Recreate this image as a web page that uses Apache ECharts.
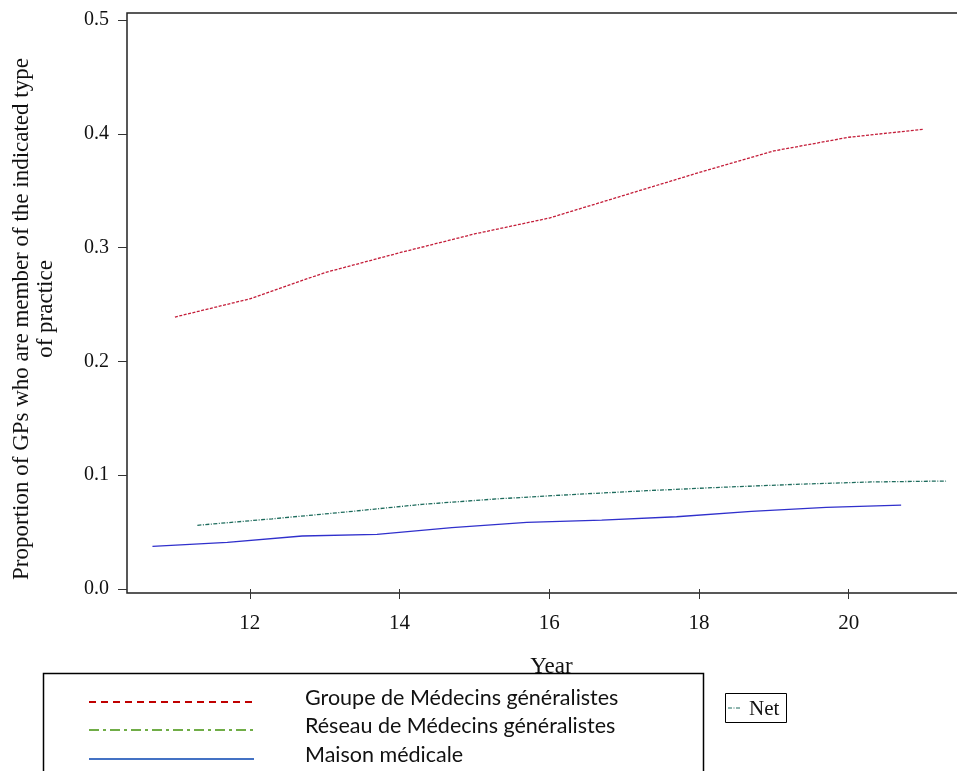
<!DOCTYPE html>
<html>
<head>
<meta charset="utf-8">
<script src="https://cdn.jsdelivr.net/npm/echarts@6/dist/echarts.min.js"></script>
<style>
  html, body { margin: 0; padding: 0; background: #fff; }
  #chart { width: 957px; height: 771px; }
</style>
</head>
<body>
<div id="chart"></div>
<script>
// Share of GPs by type of practice, per year
const yearsGroupe = [11, 12, 13, 14, 15, 16, 17, 18, 19, 20, 21];
const groupe = [0.239, 0.255, 0.278, 0.2955, 0.312, 0.326, 0.346, 0.366, 0.385, 0.397, 0.404];

const yearsReseau = [11.3, 12.3, 13.3, 14.3, 15.3, 16.3, 17.3, 18.3, 19.3, 20.3, 21.3];
const reseau = [0.056, 0.0617, 0.0678, 0.0744, 0.0792, 0.083, 0.0864, 0.0894, 0.092, 0.0941, 0.0949];

const yearsMaison = [10.7, 11.7, 12.7, 13.7, 14.7, 15.7, 16.7, 17.7, 18.7, 19.7, 20.7];
const maison = [0.0375, 0.041, 0.0466, 0.048, 0.054, 0.0586, 0.0606, 0.0635, 0.0683, 0.0718, 0.0738];

const xTicks = [12, 14, 16, 18, 20];
const yTicks = [0, 0.1, 0.2, 0.3, 0.4, 0.5];

const yTitle = ['Proportion of GPs who are member of the indicated type', 'of practice'];
const xTitle = 'Year';
const legendLabels = ['Groupe de Médecins généralistes', 'Réseau de Médecins généralistes', 'Maison médicale'];
const netLabel = 'Net';

const pairs = (xs, ys) => xs.map((x, i) => [x, ys[i]]);

const serif = '"Liberation Serif", "DejaVu Serif", serif';
const sans = 'Lato, "Noto Sans", sans-serif';

const chart = echarts.init(document.getElementById('chart'), null, { renderer: 'canvas' });

chart.setOption({
  animation: false,
  backgroundColor: '#fff',
  grid: {
    // plot box runs past the right edge of the canvas
    left: 127, top: 13, width: 849, height: 580,
    outerBoundsMode: 'none', containLabel: false,
    show: true, borderColor: '#222', borderWidth: 1.5, backgroundColor: 'transparent'
  },
  xAxis: {
    type: 'value', min: 10.36, max: 21.7,
    axisLine: { show: false },
    splitLine: { show: false },
    axisTick: { show: true, customValues: xTicks, length: 10, lineStyle: { color: '#333', width: 1 } },
    axisLabel: {
      customValues: xTicks, margin: 20,
      fontFamily: serif, fontSize: 21, color: '#111'
    },
    name: xTitle, nameLocation: 'middle', nameGap: 62,
    nameTextStyle: { fontFamily: serif, fontSize: 23, color: '#111' }
  },
  yAxis: {
    type: 'value', min: -0.0035, max: 0.5062,
    axisLine: { show: false },
    splitLine: { show: false },
    axisTick: { show: true, customValues: yTicks, length: 9, lineStyle: { color: '#333', width: 1 } },
    axisLabel: {
      customValues: yTicks, margin: 18,
      formatter: v => v.toFixed(1),
      fontFamily: serif, fontSize: 20, color: '#111'
    }
  },
  series: [
    {
      name: legendLabels[0], type: 'line', data: pairs(yearsGroupe, groupe),
      showSymbol: false, silent: true,
      lineStyle: { color: '#c41e3a', width: 1.3, type: [3, 1.5] }
    },
    {
      name: legendLabels[1], type: 'line', data: pairs(yearsReseau, reseau),
      showSymbol: false, silent: true,
      lineStyle: { color: '#1d6b5c', width: 1.3, type: [4, 1.5, 1, 1.5] }
    },
    {
      name: legendLabels[2], type: 'line', data: pairs(yearsMaison, maison),
      showSymbol: false, silent: true,
      lineStyle: { color: '#3030cc', width: 1.3 }
    }
  ],
  graphic: [
    // vertical axis title, two lines
    {
      type: 'text', x: 22, y: 319, rotation: Math.PI / 2,
      style: { text: yTitle[0], font: '23px ' + serif, fill: '#111', align: 'center', verticalAlign: 'middle' }
    },
    {
      type: 'text', x: 46, y: 309, rotation: Math.PI / 2,
      style: { text: yTitle[1], font: '23px ' + serif, fill: '#111', align: 'center', verticalAlign: 'middle' }
    },
    // legend box
    {
      type: 'rect', z: 100,
      shape: { x: 43.5, y: 673.5, width: 660, height: 130 },
      style: { fill: '#fff', stroke: '#000', lineWidth: 1.5 }
    },
    {
      type: 'line', z: 101,
      shape: { x1: 89, y1: 702, x2: 254, y2: 702 },
      style: { stroke: '#c00000', lineWidth: 2, lineDash: [7, 5] }
    },
    {
      type: 'line', z: 101,
      shape: { x1: 89, y1: 730, x2: 254, y2: 730 },
      style: { stroke: '#70ad47', lineWidth: 2, lineDash: [10, 4, 3, 4] }
    },
    {
      type: 'line', z: 101,
      shape: { x1: 89, y1: 759, x2: 254, y2: 759 },
      style: { stroke: '#4472c4', lineWidth: 2 }
    },
    {
      type: 'text', z: 101, x: 305, y: 698,
      style: { text: legendLabels[0], font: '21.5px ' + sans, fill: '#111', verticalAlign: 'middle' }
    },
    {
      type: 'text', z: 101, x: 305, y: 726,
      style: { text: legendLabels[1], font: '21.5px ' + sans, fill: '#111', verticalAlign: 'middle' }
    },
    {
      type: 'text', z: 101, x: 305, y: 755,
      style: { text: legendLabels[2], font: '21.5px ' + sans, fill: '#111', verticalAlign: 'middle' }
    },
    // small "Net" key
    {
      type: 'rect', z: 100,
      shape: { x: 725.5, y: 693.5, width: 61, height: 29 },
      style: { fill: '#fff', stroke: '#000', lineWidth: 1 }
    },
    {
      type: 'line', z: 101,
      shape: { x1: 728, y1: 708, x2: 741, y2: 708 },
      style: { stroke: '#1d6b5c', lineWidth: 1, lineDash: [4, 1.5, 1, 1.5] }
    },
    {
      type: 'text', z: 101, x: 749, y: 709,
      style: { text: netLabel, font: '21px ' + serif, fill: '#111', verticalAlign: 'middle' }
    }
  ]
});
</script>
</body>
</html>
